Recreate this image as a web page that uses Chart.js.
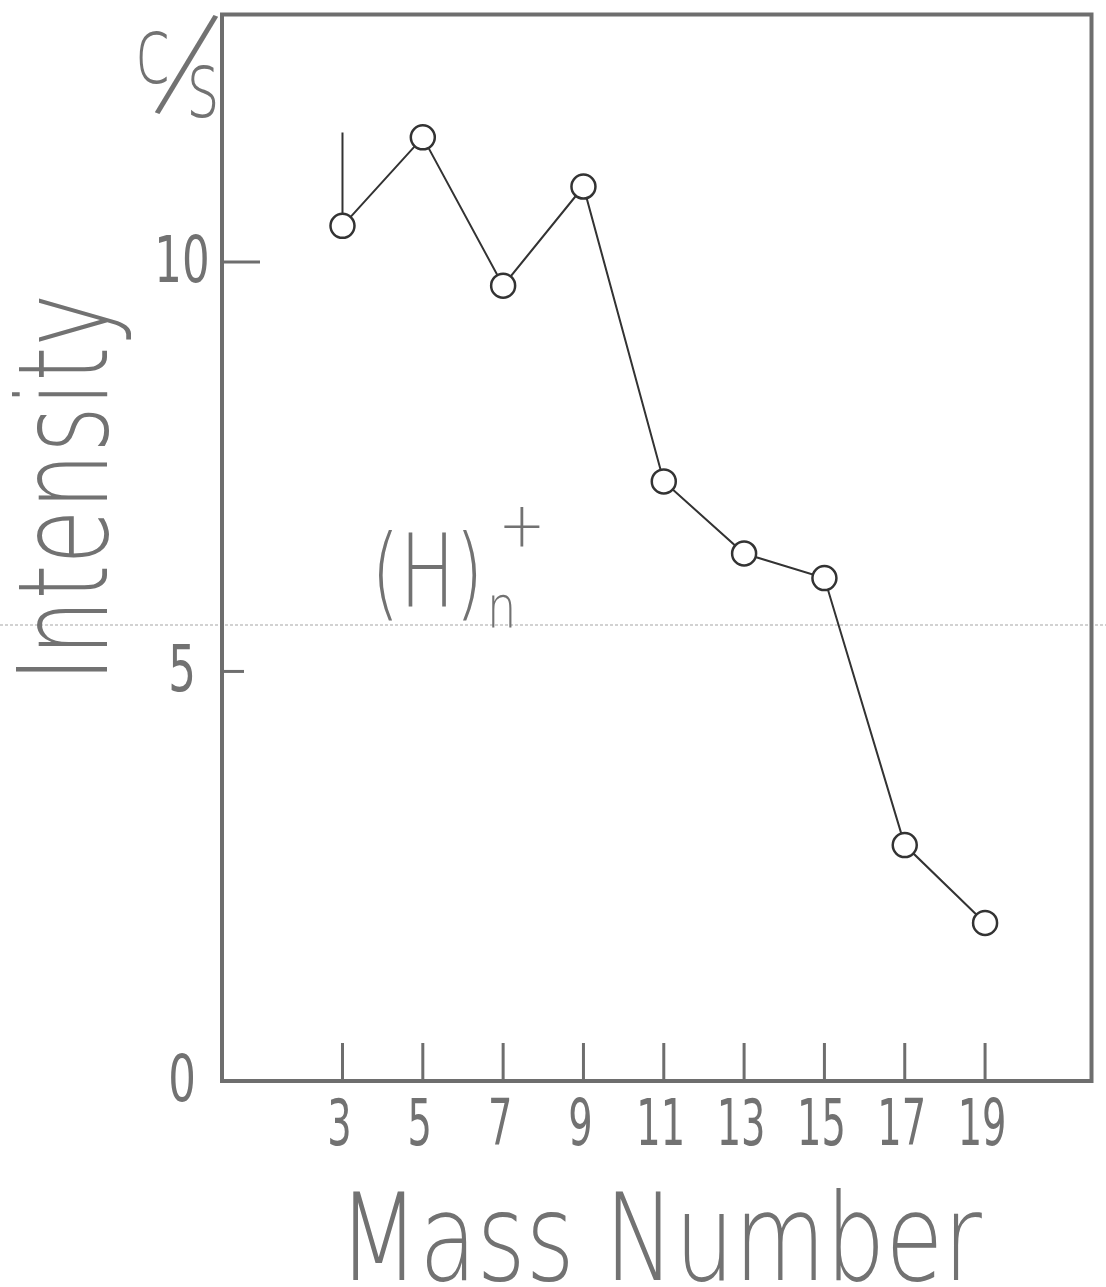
<!DOCTYPE html>
<html>
<head>
<meta charset="utf-8">
<script src="https://cdn.jsdelivr.net/npm/chart.js@4.4.1/dist/chart.umd.min.js"></script>
<style>
  html, body { margin: 0; padding: 0; background: #fff; }
  #wrap { width: 1106px; height: 1287px; }
</style>
</head>
<body>
<div id="wrap"><canvas id="chart" width="1106" height="1287"></canvas></div>
<script>
// values
const massNumbers = [3, 5, 7, 9, 11, 13, 15, 17, 19];
const intensity = [10.44, 11.52, 9.71, 10.92, 7.32, 6.44, 6.14, 2.88, 1.93];
const firstMarkTop = 11.58; // short vertical stroke above mass 3
const yTicks = [0, 5, 10];
const xTicks = [3, 5, 7, 9, 11, 13, 15, 17, 19];
const yTickLen = [0, 22, 38]; // the 10 tick is drawn longer than the 5 one

const INK = '#727272';
const PEN = '#333';
const FONT = '"DejaVu Sans", sans-serif';

function label(ctx, text, x, y, size, sx, rot, align, base, weight) {
    ctx.save();
    ctx.translate(x, y);
    if (rot) ctx.rotate(rot);
    ctx.scale(sx, 1);
    ctx.font = (weight || 200) + ' ' + size + 'px ' + FONT;
    ctx.fillStyle = INK;
    ctx.textAlign = align || 'center';
    ctx.textBaseline = base || 'alphabetic';
    ctx.fillText(text, 0, 0);
    ctx.restore();
}

const paperPlugin = {
    id: 'paper',
    beforeDatasetsDraw(chart) {
        const ctx = chart.ctx;
        const a = chart.chartArea;
        const xs = chart.scales.x, ys = chart.scales.y;
        ctx.save();
        // scan streak across the sheet
        ctx.strokeStyle = '#c4c4c4';
        ctx.lineWidth = 1.5;
        ctx.setLineDash([3, 2]);
        ctx.beginPath();
        ctx.moveTo(0, 625);
        ctx.lineTo(chart.width, 625);
        ctx.stroke();
        ctx.setLineDash([]);

        // frame
        ctx.strokeStyle = '#6e6e6e';
        ctx.lineWidth = 4;
        ctx.strokeRect(a.left, a.top, a.right - a.left, a.bottom - a.top);

        // inward ticks
        ctx.lineWidth = 3;
        xTicks.forEach(v => {
            const px = xs.getPixelForValue(v);
            ctx.beginPath();
            ctx.moveTo(px, a.bottom);
            ctx.lineTo(px, a.bottom - 38);
            ctx.stroke();
        });
        yTicks.forEach((v, i) => {
            if (!yTickLen[i]) return;
            const py = ys.getPixelForValue(v);
            ctx.beginPath();
            ctx.moveTo(a.left, py);
            ctx.lineTo(a.left + yTickLen[i], py);
            ctx.stroke();
        });
        ctx.restore();
    },
    afterDraw(chart) {
        const ctx = chart.ctx;
        const a = chart.chartArea;
        const xs = chart.scales.x, ys = chart.scales.y;

        yTicks.forEach(v => {
            label(ctx, String(v), a.left - 40, ys.getPixelForValue(v) + 3, 64, 0.68, 0, 'center', 'middle', 400);
        });
        xTicks.forEach(v => {
            label(ctx, String(v), xs.getPixelForValue(v) - 3, a.bottom + 47, 64, 0.6, 0, 'center', 'middle', 400);
        });

        // axis titles
        label(ctx, 'Intensity', 107, 488, 124, 0.72, -Math.PI / 2, 'center', 'alphabetic');
        label(ctx, 'Mass Number', 660, 1280, 122, 0.77, 0, 'center', 'alphabetic');

        // unit c/s
        label(ctx, 'c', 153, 83, 92, 0.7, 0, 'center', 'alphabetic');
        label(ctx, '/', 184, 72, 135, 0.7, 0.33, 'center', 'middle');
        label(ctx, 's', 203, 117, 92, 0.7, 0, 'center', 'alphabetic');

        // (H)n+
        label(ctx, '(H)', 371, 607, 102, 0.72, 0, 'left', 'alphabetic');
        label(ctx, 'n', 487, 628, 58, 0.8, 0, 'left', 'alphabetic');
        label(ctx, '+', 522, 530, 62, 0.9, 0, 'center', 'middle');
    }
};

const points = massNumbers.map((m, i) => ({ x: m, y: intensity[i] }));

new Chart(document.getElementById('chart'), {
    type: 'scatter',
    data: {
        datasets: [
            {
                data: points,
                showLine: true,
                borderColor: PEN,
                borderWidth: 2,
                pointRadius: 12,
                pointBorderWidth: 2.5,
                pointBorderColor: PEN,
                pointBackgroundColor: '#fff',
                order: 0,
            },
            {
                data: [{ x: massNumbers[0], y: intensity[0] }, { x: massNumbers[0], y: firstMarkTop }],
                showLine: true,
                borderColor: PEN,
                borderWidth: 2,
                pointRadius: 0,
                order: 1,
            },
        ],
    },
    options: {
        responsive: false,
        animation: false,
        devicePixelRatio: 1,
        layout: { padding: { left: 222, top: 10, right: 10, bottom: 206 } },
        scales: {
            x: { type: 'linear', min: 0, max: 21.65, display: false },
            y: { type: 'linear', min: 0, max: 13.02, display: false },
        },
        plugins: {
            legend: { display: false },
            tooltip: { enabled: false },
        },
    },
    plugins: [paperPlugin],
});
</script>
</body>
</html>
